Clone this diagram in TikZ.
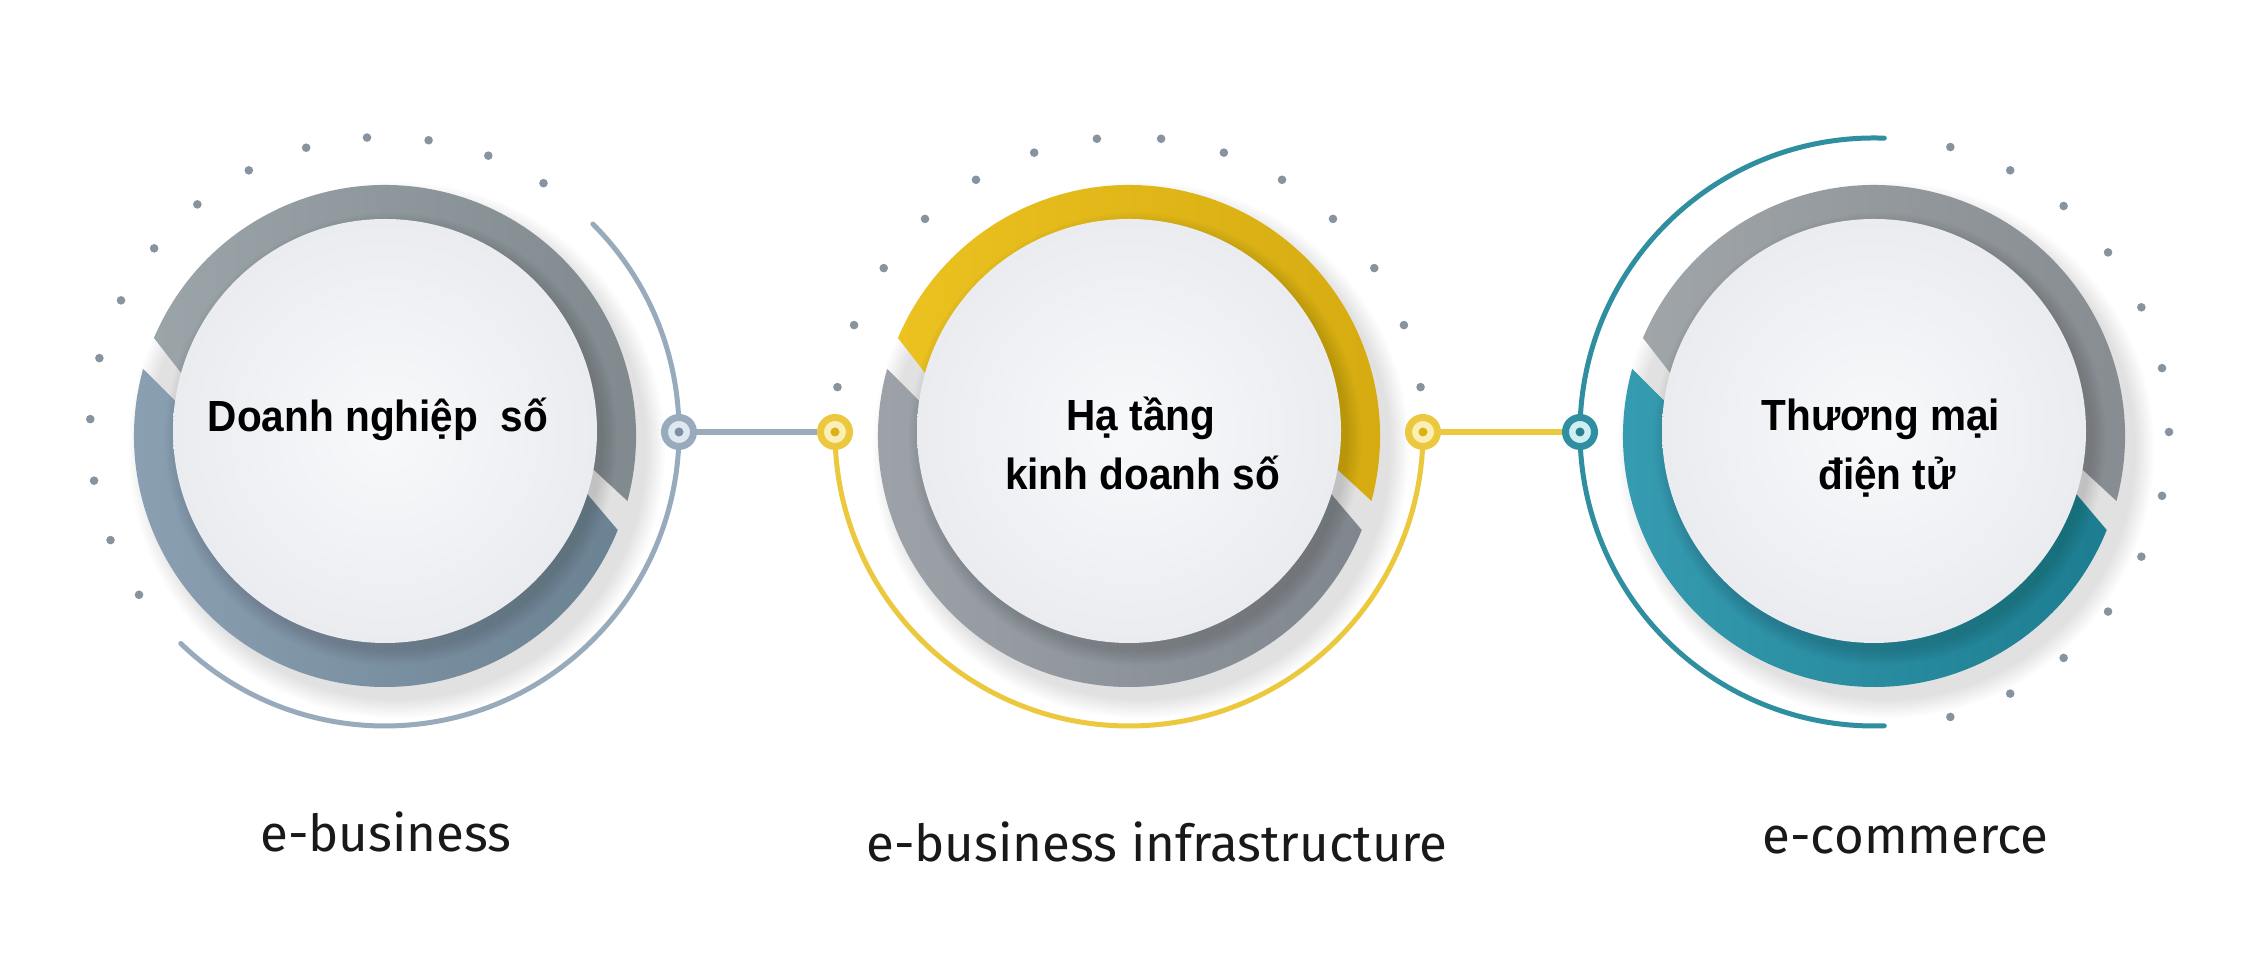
\documentclass[tikz,border=0pt]{standalone}
\usepackage{fontspec}
\setmainfont{Fira Sans}
\newfontfamily\titlefont[FakeStretch=0.93]{Liberation Sans}
\usetikzlibrary{calc}
\definecolor{aUpL}{HTML}{9AA4A9}\definecolor{aUpR}{HTML}{7E888D}
\definecolor{aLoL}{HTML}{8CA2B4}\definecolor{aLoR}{HTML}{6B8293}
\definecolor{bUpL}{HTML}{EBC220}\definecolor{bUpR}{HTML}{D4AA10}
\definecolor{bLoL}{HTML}{9EA4AA}\definecolor{bLoR}{HTML}{7F868D}
\definecolor{cUpL}{HTML}{A0A5A9}\definecolor{cUpR}{HTML}{858B90}
\definecolor{cLoL}{HTML}{379DB2}\definecolor{cLoR}{HTML}{1D7D90}
\definecolor{aThin}{HTML}{98ABBD}\definecolor{bThin}{HTML}{ECC83F}\definecolor{cThin}{HTML}{2F8FA1}
\definecolor{aFill}{HTML}{DFE7EF}\definecolor{bFill}{HTML}{FAF0B5}\definecolor{cFill}{HTML}{CDEEF3}
\definecolor{aDot}{HTML}{7D8FA0}\definecolor{bDot}{HTML}{D9B21A}\definecolor{cDot}{HTML}{2C7F90}
\definecolor{dotc}{HTML}{8794A0}
\definecolor{diskIn}{HTML}{F8F9FB}\definecolor{diskOut}{HTML}{EAECF0}
\begin{document}
\begin{tikzpicture}[x=0.5pt,y=0.5pt,
  conn/.style={circle, line width=3.5pt, minimum size=14.5pt, inner sep=0pt},
  title/.style={font=\titlefont\bfseries\fontsize{21.8}{26}\selectfont, anchor=base, inner sep=0pt},
  lbl/.style={font=\fontsize{25.5}{30}\selectfont, anchor=base, inner sep=0pt, text=black!90},
  thinarc/.style={line width=2.5pt, line cap=round},
  link/.style={line width=3pt},
  smalldot/.style={fill=dotc}]
\useasboundingbox (0,0) rectangle (2265,977);
\fill[white] (0,0) rectangle (2265,977);

% circle 1
\begin{scope}[shift={(385,541)}]
  \foreach \i in {1,...,10} \fill[black,opacity=0.012] (12,-14) circle[radius=248+2*\i];
  \shade[left color=aUpL, right color=aUpR] (-15:251) arc[start angle=-15, end angle=157, radius=251] -- (164.5:205) arc[start angle=164.5, end angle=-8, radius=205] -- cycle;
  \shade[left color=aLoL, right color=aLoR] (164.5:251) arc[start angle=164.5, end angle=338, radius=251] -- (345:205) arc[start angle=345, end angle=172, radius=205] -- cycle;
\end{scope}
\begin{scope}[shift={(385,546)}]
  \foreach \i in {1,...,8} \fill[black,opacity=0.015] (6,-8) circle[radius=210+2*\i];
  \shade[inner color=diskIn, outer color=diskOut] (0,0) circle[radius=212];
\end{scope}
\begin{scope}[shift={(385,545)}]
  \draw[thinarc, aThin] (45:294) arc[start angle=45, end angle=-134, radius=294];
  \foreach \k in {0,...,13} \fill[smalldot] ({57.5+12*\k}:295) circle[radius=4.3];
\end{scope}

% circle 2
\begin{scope}[shift={(1129,541)}]
  \foreach \i in {1,...,10} \fill[black,opacity=0.012] (12,-14) circle[radius=248+2*\i];
  \shade[left color=bUpL, right color=bUpR] (-15:251) arc[start angle=-15, end angle=157, radius=251] -- (164.5:205) arc[start angle=164.5, end angle=-8, radius=205] -- cycle;
  \shade[left color=bLoL, right color=bLoR] (164.5:251) arc[start angle=164.5, end angle=338, radius=251] -- (345:205) arc[start angle=345, end angle=172, radius=205] -- cycle;
\end{scope}
\begin{scope}[shift={(1129,546)}]
  \foreach \i in {1,...,8} \fill[black,opacity=0.015] (6,-8) circle[radius=210+2*\i];
  \shade[inner color=diskIn, outer color=diskOut] (0,0) circle[radius=212];
\end{scope}
\begin{scope}[shift={(1129,545)}]
  \draw[thinarc, bThin] (180:294) arc[start angle=180, end angle=360, radius=294];
  \foreach \k in {0,...,13} \fill[smalldot] ({8.75+12.5*\k}:295) circle[radius=4.3];
\end{scope}

% circle 3
\begin{scope}[shift={(1874,541)}]
  \foreach \i in {1,...,10} \fill[black,opacity=0.012] (12,-14) circle[radius=248+2*\i];
  \shade[left color=cUpL, right color=cUpR] (-15:251) arc[start angle=-15, end angle=157, radius=251] -- (164.5:205) arc[start angle=164.5, end angle=-8, radius=205] -- cycle;
  \shade[left color=cLoL, right color=cLoR] (164.5:251) arc[start angle=164.5, end angle=338, radius=251] -- (345:205) arc[start angle=345, end angle=172, radius=205] -- cycle;
\end{scope}
\begin{scope}[shift={(1874,546)}]
  \foreach \i in {1,...,8} \fill[black,opacity=0.015] (6,-8) circle[radius=210+2*\i];
  \shade[inner color=diskIn, outer color=diskOut] (0,0) circle[radius=212];
\end{scope}
\begin{scope}[shift={(1874,545)}]
  \draw[thinarc, cThin] (88:294) arc[start angle=88, end angle=272, radius=294];
  \foreach \k in {0,...,12} \fill[smalldot] ({-75+12.5*\k}:295) circle[radius=4.3];
\end{scope}

% connector rings
\node[conn, draw=aThin, fill=aFill] (k1) at (679,545) {};
\node[conn, draw=bThin, fill=bFill] (k2) at (835,545) {};
\node[conn, draw=bThin, fill=bFill] (k3) at (1423,545) {};
\node[conn, draw=cThin, fill=cFill] (k4) at (1580,545) {};
\fill[aDot] (k1.center) circle[radius=4.5];
\fill[bDot] (k2.center) circle[radius=4.5];
\fill[bDot] (k3.center) circle[radius=4.5];
\fill[cDot] (k4.center) circle[radius=4.5];
\draw[link, aThin] (k1) -- (k2);
\draw[link, bThin] (k3) -- (k4);

% titles
\node[title] (t1) at (378,545) {Doanh nghiệp~ số};
\node[title] (t2a) at (1141,546) {Hạ tầng};
\node[title] (t2b) at (1142.5,487) {kinh doanh số};
\node[title] (t3a) at (1881,546) {Thương mại};
\node[title] (t3b) at (1887,487) {điện tử};

% labels
\node[lbl] (l1) at (386,125) {e-business};
\node[lbl] (l2) at (1157,115) {e-business infrastructure};
\node[lbl] (l3) at (1905.5,123) {e-commerce};
\end{tikzpicture}
\end{document}
